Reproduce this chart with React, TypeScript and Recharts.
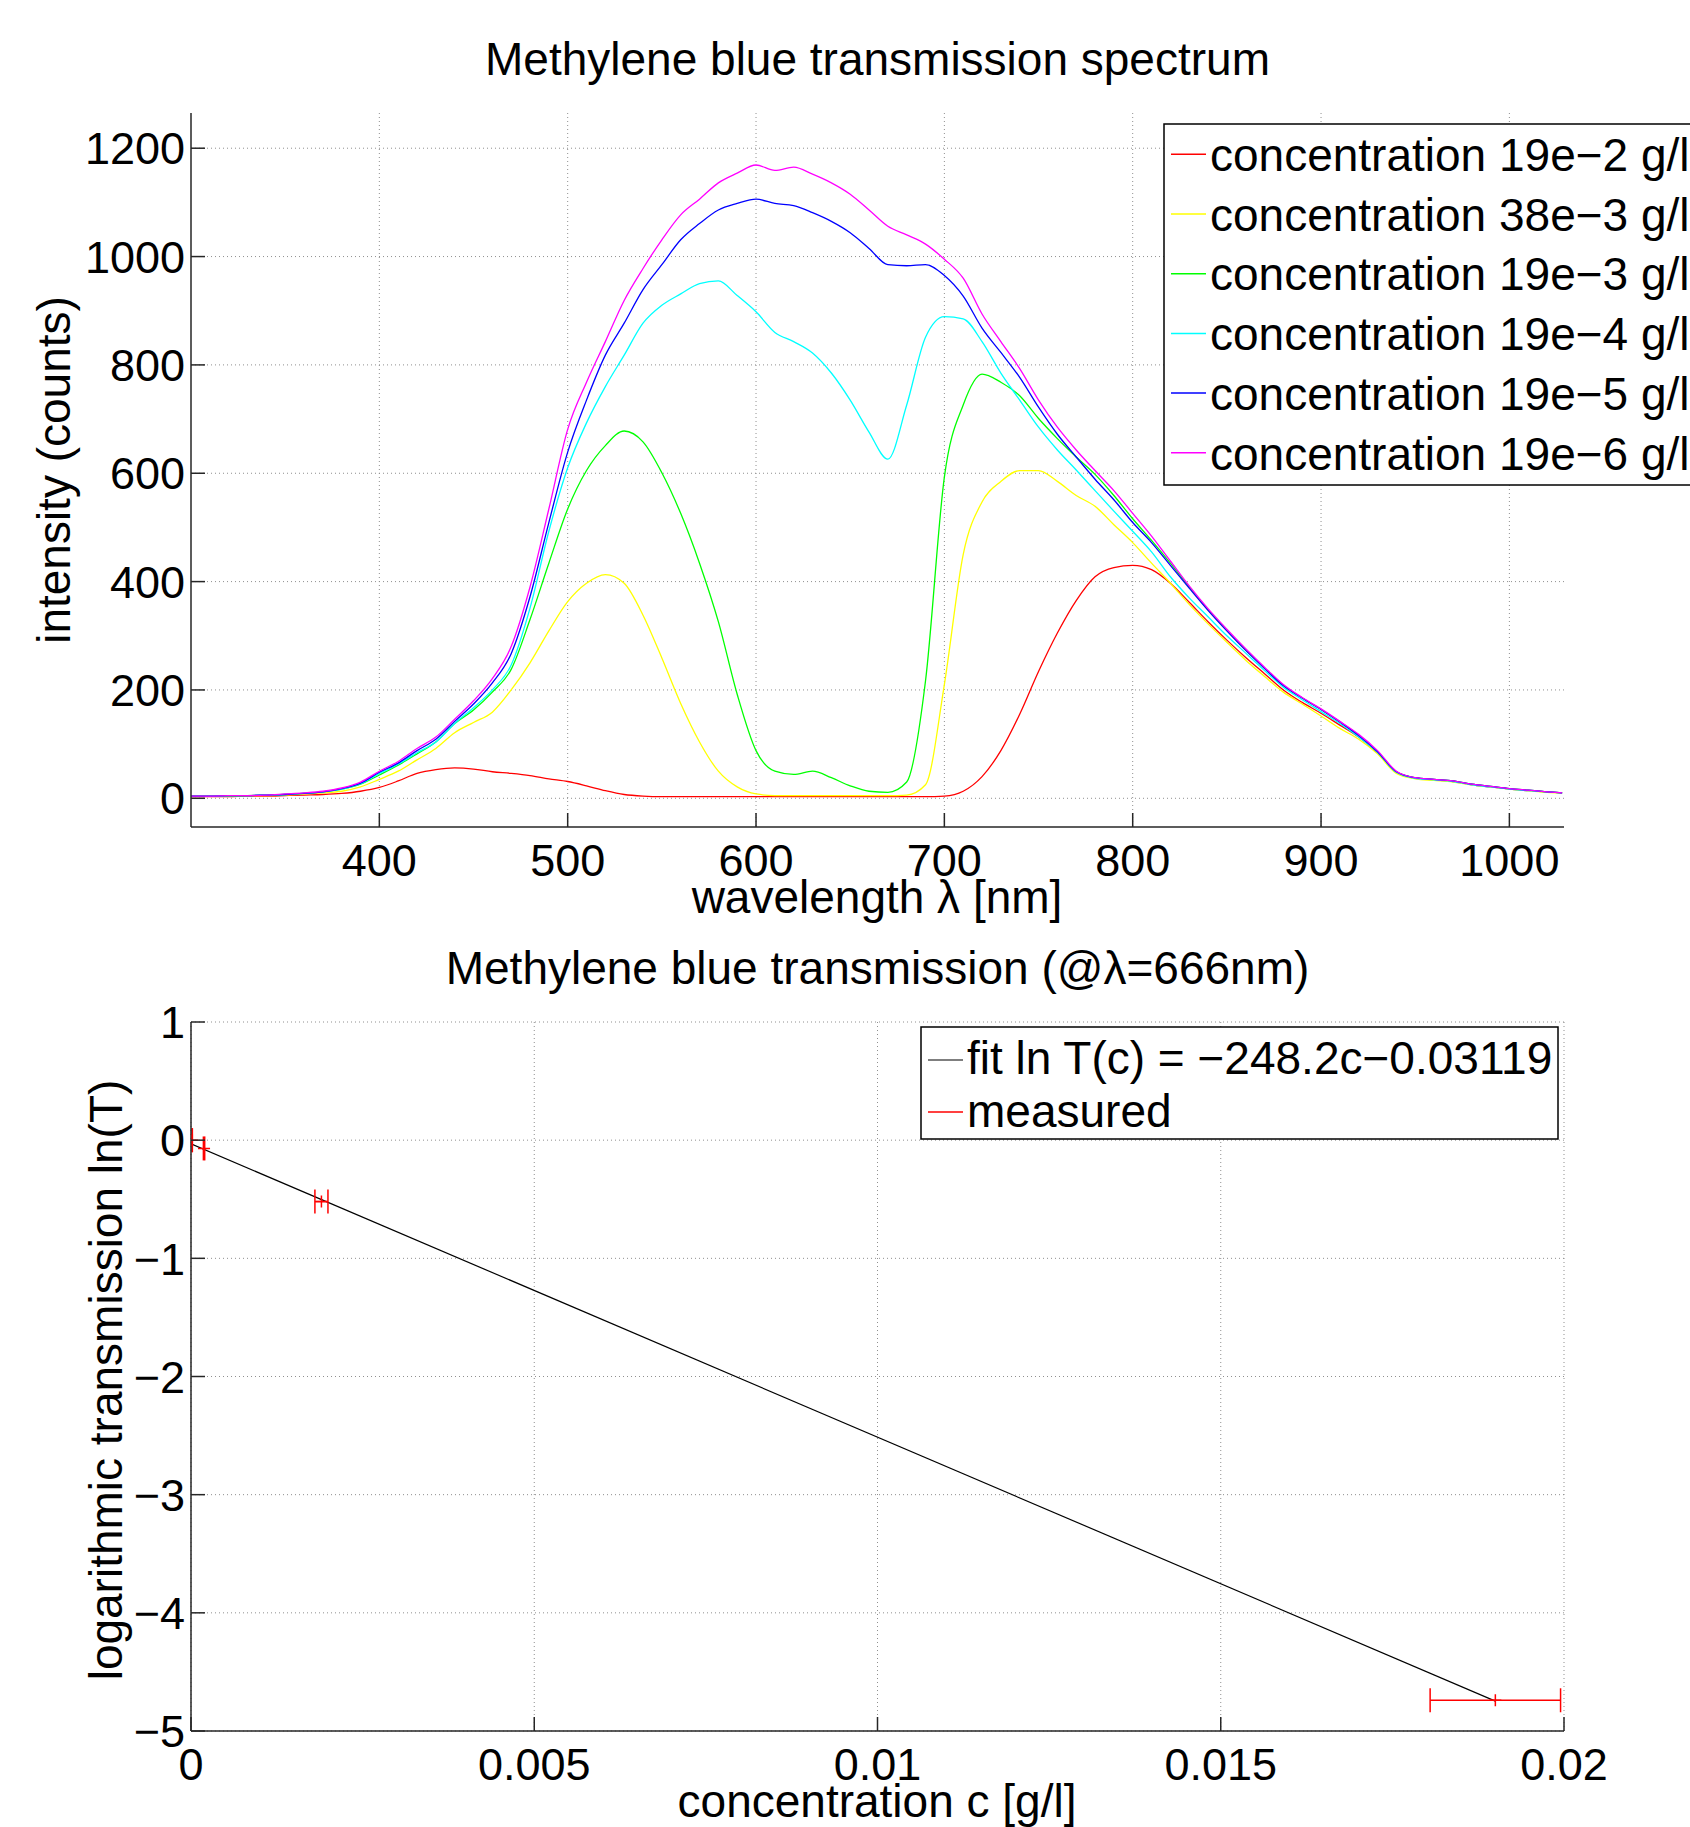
import { LineChart, Line, XAxis, YAxis, CartesianGrid, ComposedChart, Scatter, ErrorBar } from 'recharts';

const FONT = '"Liberation Sans", Arial, Helvetica, sans-serif';
const AXIS = '#262626';
const GRID = '#8f8f8f';

// ---- spectrum (top panel) ----
const wavelength = [
  300, 310, 320, 330, 340, 350, 360, 370, 380, 390,
  400, 410, 420, 430, 440, 450, 460, 470, 480, 490,
  500, 510, 520, 530, 540, 550, 560, 570, 580, 590,
  600, 610, 620, 630, 640, 650, 660, 670, 680, 690,
  700, 710, 720, 730, 740, 750, 760, 770, 780, 790,
  800, 810, 820, 830, 840, 850, 860, 870, 880, 890,
  900, 910, 920, 930, 940, 950, 960, 970, 980, 990,
  1000, 1010, 1020, 1028,
];

const conc19e2 = [
  3, 3, 3, 4, 4, 5, 6, 7, 9, 13,
  20, 32, 46, 53, 56, 54, 49, 46, 42, 36,
  31, 23, 14, 7, 4, 3, 3, 3, 3, 3,
  3, 3, 3, 3, 3, 3, 3, 3, 3, 3,
  4, 13, 40, 88, 155, 234, 305, 365, 409, 426,
  430, 422, 397, 362, 326, 292, 260, 230, 200, 177,
  157, 135, 113, 84, 48, 37, 34, 31, 25, 21,
  17, 14, 12, 10,
];

const conc38e3 = [
  4, 4, 4, 5, 5, 6, 8, 10, 13, 21,
  35, 50, 71, 92, 121, 140, 159, 200, 250, 309,
  363, 397, 413, 397, 338, 259, 175, 104, 50, 21,
  8, 5, 5, 5, 5, 5, 5, 5, 6, 25,
  210, 450, 547, 585, 605, 605, 585, 559, 539, 505,
  472, 434, 397, 358, 322, 288, 255, 225, 196, 174,
  152, 129, 109, 82, 46, 36, 33, 30, 25, 21,
  17, 14, 11, 10,
];

const conc19e3 = [
  4, 4, 4, 5, 6, 7, 9, 12, 17, 26,
  43, 61, 82, 104, 138, 163, 196, 238, 330, 434,
  534, 605, 651, 678, 658, 601, 526, 434, 326, 192,
  88, 50, 44, 50, 38, 23, 13, 11, 30, 217,
  593, 726, 783, 768, 743, 701, 664, 630, 598, 559,
  516, 476, 434, 390, 348, 310, 274, 240, 208, 185,
  164, 141, 116, 86, 49, 38, 35, 32, 26, 22,
  18, 15, 12, 10,
];

const conc19e4 = [
  4, 4, 5, 5, 6, 7, 9, 12, 17, 27,
  46, 63, 84, 104, 138, 167, 200, 246, 351, 493,
  610, 693, 760, 818, 877, 910, 931, 950, 955, 928,
  898, 860, 843, 822, 785, 735, 676, 626, 726, 851,
  889, 885, 843, 785, 735, 685, 643, 606, 568, 530,
  493, 455, 409, 370, 335, 300, 268, 236, 205, 182,
  160, 138, 113, 85, 48, 37, 34, 31, 25, 21,
  17, 14, 12, 10,
];

const conc19e5 = [
  4, 4, 5, 5, 6, 7, 9, 12, 18, 28,
  48, 65, 88, 109, 142, 174, 213, 267, 372, 509,
  639, 735, 818, 877, 939, 985, 1031, 1061, 1086, 1098,
  1106, 1098, 1094, 1081, 1065, 1044, 1015, 985, 983, 985,
  965, 927, 868, 823, 777, 722, 672, 630, 589, 551,
  509, 472, 430, 388, 347, 309, 273, 240, 208, 185,
  164, 141, 116, 86, 49, 38, 35, 32, 26, 22,
  18, 15, 12, 10,
];

const conc19e6 = [
  4, 4, 5, 5, 6, 8, 10, 13, 19, 30,
  50, 68, 92, 113, 146, 180, 221, 280, 390, 534,
  681, 768, 843, 919, 978, 1031, 1077, 1106, 1136, 1154,
  1169, 1159, 1165, 1152, 1136, 1115, 1086, 1056, 1040, 1023,
  995, 960, 894, 843, 793, 735, 685, 643, 605, 568,
  526, 484, 438, 392, 350, 312, 276, 242, 210, 186,
  165, 142, 118, 88, 50, 38, 35, 32, 26, 22,
  18, 15, 12, 10,
];

const spectrumLines = [
  { key: 'c19e2', name: 'concentration 19e\u22122 g/l', color: '#ff0000', values: conc19e2 },
  { key: 'c38e3', name: 'concentration 38e\u22123 g/l', color: '#ffff00', values: conc38e3 },
  { key: 'c19e3', name: 'concentration 19e\u22123 g/l', color: '#00ff00', values: conc19e3 },
  { key: 'c19e4', name: 'concentration 19e\u22124 g/l', color: '#00ffff', values: conc19e4 },
  { key: 'c19e5', name: 'concentration 19e\u22125 g/l', color: '#0000ff', values: conc19e5 },
  { key: 'c19e6', name: 'concentration 19e\u22126 g/l', color: '#ff00ff', values: conc19e6 },
];

const spectrumData = wavelength.map((w, i) => {
  const row: Record<string, number> = { w };
  spectrumLines.forEach((s) => {
    row[s.key] = s.values[i];
  });
  return row;
});

const wavelengthTicks = [400, 500, 600, 700, 800, 900, 1000];
const intensityTicks = [0, 200, 400, 600, 800, 1000, 1200];

// ---- transmission at 666nm (bottom panel) ----
const measuredC = [0.000019, 0.00019, 0.0019, 0.019];
const measuredLnT = [0, -0.07, -0.52, -4.74];
const measuredCErr = [0.00000095, 0.0000095, 0.000095, 0.00095];
const fitC = [0, 0.019];
const fitLnT = [-0.031, -4.747];
const concTicks = [0, 0.005, 0.01, 0.015, 0.02];
const lnTTicks = [-5, -4, -3, -2, -1, 0, 1];

const measuredData = measuredC.map((c, i) => ({ c, lnT: measuredLnT[i], cErr: measuredCErr[i] }));
const fitData = fitC.map((c, i) => ({ c, lnT: fitLnT[i] }));

const fmtNum = (v: number) => (v < 0 ? '\u2212' + Math.abs(v) : String(v));

const YTick = (props: any) => {
  const { x, y, payload } = props;
  return (
    <g>
      <line x1={x} y1={y} x2={x + 14} y2={y} stroke={AXIS} strokeWidth={1.5} />
      <text x={x - 6} y={y} dy="0.36em" textAnchor="end" fontSize={45} fontFamily={FONT} fill="#000">
        {fmtNum(payload.value)}
      </text>
    </g>
  );
};

const XTick = (props: any) => {
  const { x, y, payload } = props;
  return (
    <g>
      <line x1={x} y1={y} x2={x} y2={y - 14} stroke={AXIS} strokeWidth={1.5} />
      <text x={x} y={y + 49} textAnchor="middle" fontSize={45} fontFamily={FONT} fill="#000">
        {fmtNum(payload.value)}
      </text>
    </g>
  );
};

const PlusMark = (props: any) => {
  const { cx, cy } = props;
  return <path d={`M${cx - 6},${cy}H${cx + 6}M${cx},${cy - 6}V${cy + 6}`} stroke="#ff0000" strokeWidth={1.5} fill="none" />;
};

const Overlay = () => (
  <svg
    width={1690}
    height={1827}
    style={{ position: 'absolute', left: 0, top: 0, pointerEvents: 'none' }}
    fontFamily={FONT}
  >
    <text x={877.5} y={75} textAnchor="middle" fontSize={46}>Methylene blue transmission spectrum</text>
    <text x={877} y={913} textAnchor="middle" fontSize={46}>wavelength λ [nm]</text>
    <text transform="translate(70,470) rotate(-90)" textAnchor="middle" fontSize={46}>intensity (counts)</text>

    <text x={877.5} y={984} textAnchor="middle" fontSize={46}>Methylene blue transmission (@λ=666nm)</text>
    <text x={877} y={1817} textAnchor="middle" fontSize={46}>concentration c [g/l]</text>
    <text transform="translate(122,1380) rotate(-90)" textAnchor="middle" fontSize={46}>logarithmic transmission ln(T)</text>

    <rect x={1164} y={124} width={560} height={361} fill="#fff" stroke="#000" strokeWidth={1.5} />
    {spectrumLines.map((s, i) => {
      const ly = 154.3 + i * 59.7;
      return (
        <g key={s.key}>
          <line x1={1171} x2={1206} y1={ly} y2={ly} stroke={s.color} strokeWidth={1.5} />
          <text x={1210} y={ly + 16.7} fontSize={46}>{s.name}</text>
        </g>
      );
    })}

    <rect x={921} y={1027} width={637} height={112} fill="#fff" stroke="#000" strokeWidth={1.5} />
    <line x1={928} x2={963} y1={1060} y2={1060} stroke="#000" strokeWidth={1.2} />
    <text x={967} y={1074} fontSize={46}>fit ln T(c) = {'\u2212'}248.2c{'\u2212'}0.03119</text>
    <line x1={928} x2={963} y1={1112} y2={1112} stroke="#ff0000" strokeWidth={1.5} />
    <text x={967} y={1127} fontSize={46}>measured</text>
  </svg>
);

export default function App() {
  return (
    <div
      style={{
        position: 'absolute',
        left: 0,
        top: 0,
        width: 1690,
        height: 1827,
        overflow: 'hidden',
        background: '#fff',
        fontFamily: FONT,
      }}
    >
      <div style={{ position: 'absolute', left: 0, top: 0 }}>
        <LineChart width={1690} height={940} data={spectrumData} margin={{ top: 113, right: 126, bottom: 112, left: 190 }}>
          <CartesianGrid stroke={GRID} strokeDasharray="1 3" syncWithTicks />
          <XAxis
            dataKey="w"
            type="number"
            domain={[300, 1029]}
            ticks={wavelengthTicks}
            allowDataOverflow
            interval={0}
            height={1}
            tickSize={0}
            tickMargin={0}
            tickLine={false}
            tick={(p: any) => <XTick {...p} />}
            axisLine={{ stroke: AXIS, strokeWidth: 1.5 }}
          />
          <YAxis
            type="number"
            domain={[-53, 1265]}
            ticks={intensityTicks}
            allowDataOverflow
            interval={0}
            width={1}
            tickSize={0}
            tickMargin={0}
            tickLine={false}
            tick={(p: any) => <YTick {...p} />}
            axisLine={{ stroke: AXIS, strokeWidth: 1.5 }}
          />
          {spectrumLines.map((s) => (
            <Line
              key={s.key}
              type="monotone"
              dataKey={s.key}
              name={s.name}
              stroke={s.color}
              strokeWidth={1.3}
              dot={false}
              isAnimationActive={false}
            />
          ))}
        </LineChart>
      </div>

      <div style={{ position: 'absolute', left: 0, top: 940 }}>
        <ComposedChart width={1690} height={887} margin={{ top: 82, right: 126, bottom: 95, left: 190 }}>
          <CartesianGrid stroke={GRID} strokeDasharray="1 3" syncWithTicks />
          <XAxis
            dataKey="c"
            type="number"
            domain={[0, 0.02]}
            ticks={concTicks}
            allowDataOverflow
            interval={0}
            height={1}
            tickSize={0}
            tickMargin={0}
            tickLine={false}
            tick={(p: any) => <XTick {...p} />}
            axisLine={{ stroke: AXIS, strokeWidth: 1.5 }}
          />
          <YAxis
            type="number"
            domain={[-5, 1]}
            ticks={lnTTicks}
            allowDataOverflow
            interval={0}
            width={1}
            tickSize={0}
            tickMargin={0}
            tickLine={false}
            tick={(p: any) => <YTick {...p} />}
            axisLine={{ stroke: AXIS, strokeWidth: 1.5 }}
          />
          <Line
            data={fitData}
            type="linear"
            dataKey="lnT"
            name="fit"
            stroke="#000"
            strokeWidth={1.2}
            dot={false}
            isAnimationActive={false}
          />
          <Scatter data={measuredData} dataKey="lnT" name="measured" shape={(p: any) => <PlusMark {...p} />} isAnimationActive={false}>
            <ErrorBar dataKey="cErr" direction="x" width={12} stroke="#ff0000" strokeWidth={1.5} />
          </Scatter>
        </ComposedChart>
      </div>

      <Overlay />
    </div>
  );
}
